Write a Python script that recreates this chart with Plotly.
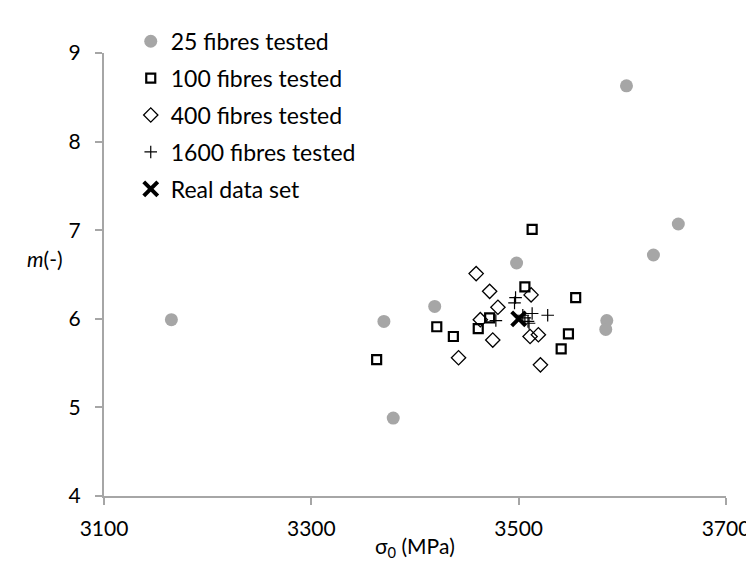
import plotly.graph_objects as go

# 25 fibres tested
x25 = [3165, 3370, 3379, 3419, 3498, 3585, 3584, 3604, 3630, 3654]
y25 = [5.99, 5.97, 4.88, 6.14, 6.63, 5.98, 5.88, 8.63, 6.72, 7.07]
# 100 fibres tested
x100 = [3363, 3421, 3437, 3461, 3472, 3506, 3513, 3541, 3548, 3555]
y100 = [5.54, 5.91, 5.80, 5.89, 6.01, 6.36, 7.01, 5.66, 5.83, 6.24]
# 400 fibres tested
x400 = [3459, 3472, 3512, 3480, 3463, 3475, 3511, 3519, 3442, 3521]
y400 = [6.51, 6.31, 6.27, 6.13, 5.99, 5.76, 5.80, 5.82, 5.56, 5.48]
# 1600 fibres tested
x1600 = [3497, 3496, 3478, 3506, 3509, 3513, 3528, 3504, 3510]
y1600 = [6.24, 6.18, 5.98, 6.01, 5.97, 6.06, 6.04, 6.04, 5.95]
# Real data set
xreal = [3500]
yreal = [6.0]

x_ticks = [3100, 3300, 3500, 3700]
y_ticks = [4, 5, 6, 7, 8, 9]

FONT = "Lato"
AXIS = "#a6a6a6"
TICK_SIZE = 21
LEG_SIZE = 23

fig = go.Figure()
fig.add_trace(go.Scatter(x=x25, y=y25, mode="markers", name="25 fibres tested",
                         legendgroup="a",
                         marker=dict(symbol="circle", size=13, color="#a6a6a6")))
fig.add_trace(go.Scatter(x=x100, y=y100, mode="markers", name="100 fibres tested",
                         legendgroup="b",
                         marker=dict(symbol="square-open", size=9, color="black",
                                     line=dict(width=2.2, color="black"))))
fig.add_trace(go.Scatter(x=x400, y=y400, mode="markers", name="400 fibres tested",
                         legendgroup="c",
                         marker=dict(symbol="diamond-open", size=11, color="black",
                                     line=dict(width=1.3, color="black"))))
fig.add_trace(go.Scatter(x=x1600, y=y1600, mode="markers", name="1600 fibres tested",
                         legendgroup="d",
                         marker=dict(symbol="cross-thin", size=9, color="black",
                                     line=dict(width=1.2, color="black"))))
fig.add_trace(go.Scatter(x=xreal, y=yreal, mode="markers", name="Real data set",
                         legendgroup="e",
                         marker=dict(symbol="x-thin", size=14, color="black",
                                     line=dict(width=4, color="black"))))

fig.update_layout(
    width=754, height=567,
    margin=dict(l=96, r=31, t=32, b=79),
    paper_bgcolor="white", plot_bgcolor="white",
    font=dict(family=FONT, size=TICK_SIZE, color="black"),
    showlegend=True,
    legend=dict(x=0.043, y=1.075, xanchor="left", yanchor="top",
                bgcolor="rgba(0,0,0,0)", tracegroupgap=4,
                font=dict(family=FONT, size=LEG_SIZE), itemwidth=30),
    xaxis=dict(range=[3100, 3700], tickvals=x_ticks, showgrid=False, zeroline=False,
               showline=True, linecolor=AXIS, linewidth=2, ticks="outside",
               tickcolor=AXIS, ticklen=7, tickwidth=2, ticklabelstandoff=6,
               tickfont=dict(family=FONT, size=TICK_SIZE),
               title=dict(text="σ<sub>0</sub> (MPa)", font=dict(family=FONT, size=TICK_SIZE),
                          standoff=0)),
    yaxis=dict(range=[4, 9], tickvals=y_ticks, showgrid=False, zeroline=False,
               showline=True, linecolor=AXIS, linewidth=2, ticks="outside",
               tickcolor=AXIS, ticklen=7, tickwidth=2, ticklabelstandoff=10,
               tickfont=dict(family=FONT, size=TICK_SIZE)),
    annotations=[dict(text="<i>m</i>(-)", xref="paper", yref="y", x=-0.062, y=6.68,
                      xanchor="right", yanchor="middle", showarrow=False,
                      font=dict(family=FONT, size=TICK_SIZE))],
)

fig.write_html("out.html")
